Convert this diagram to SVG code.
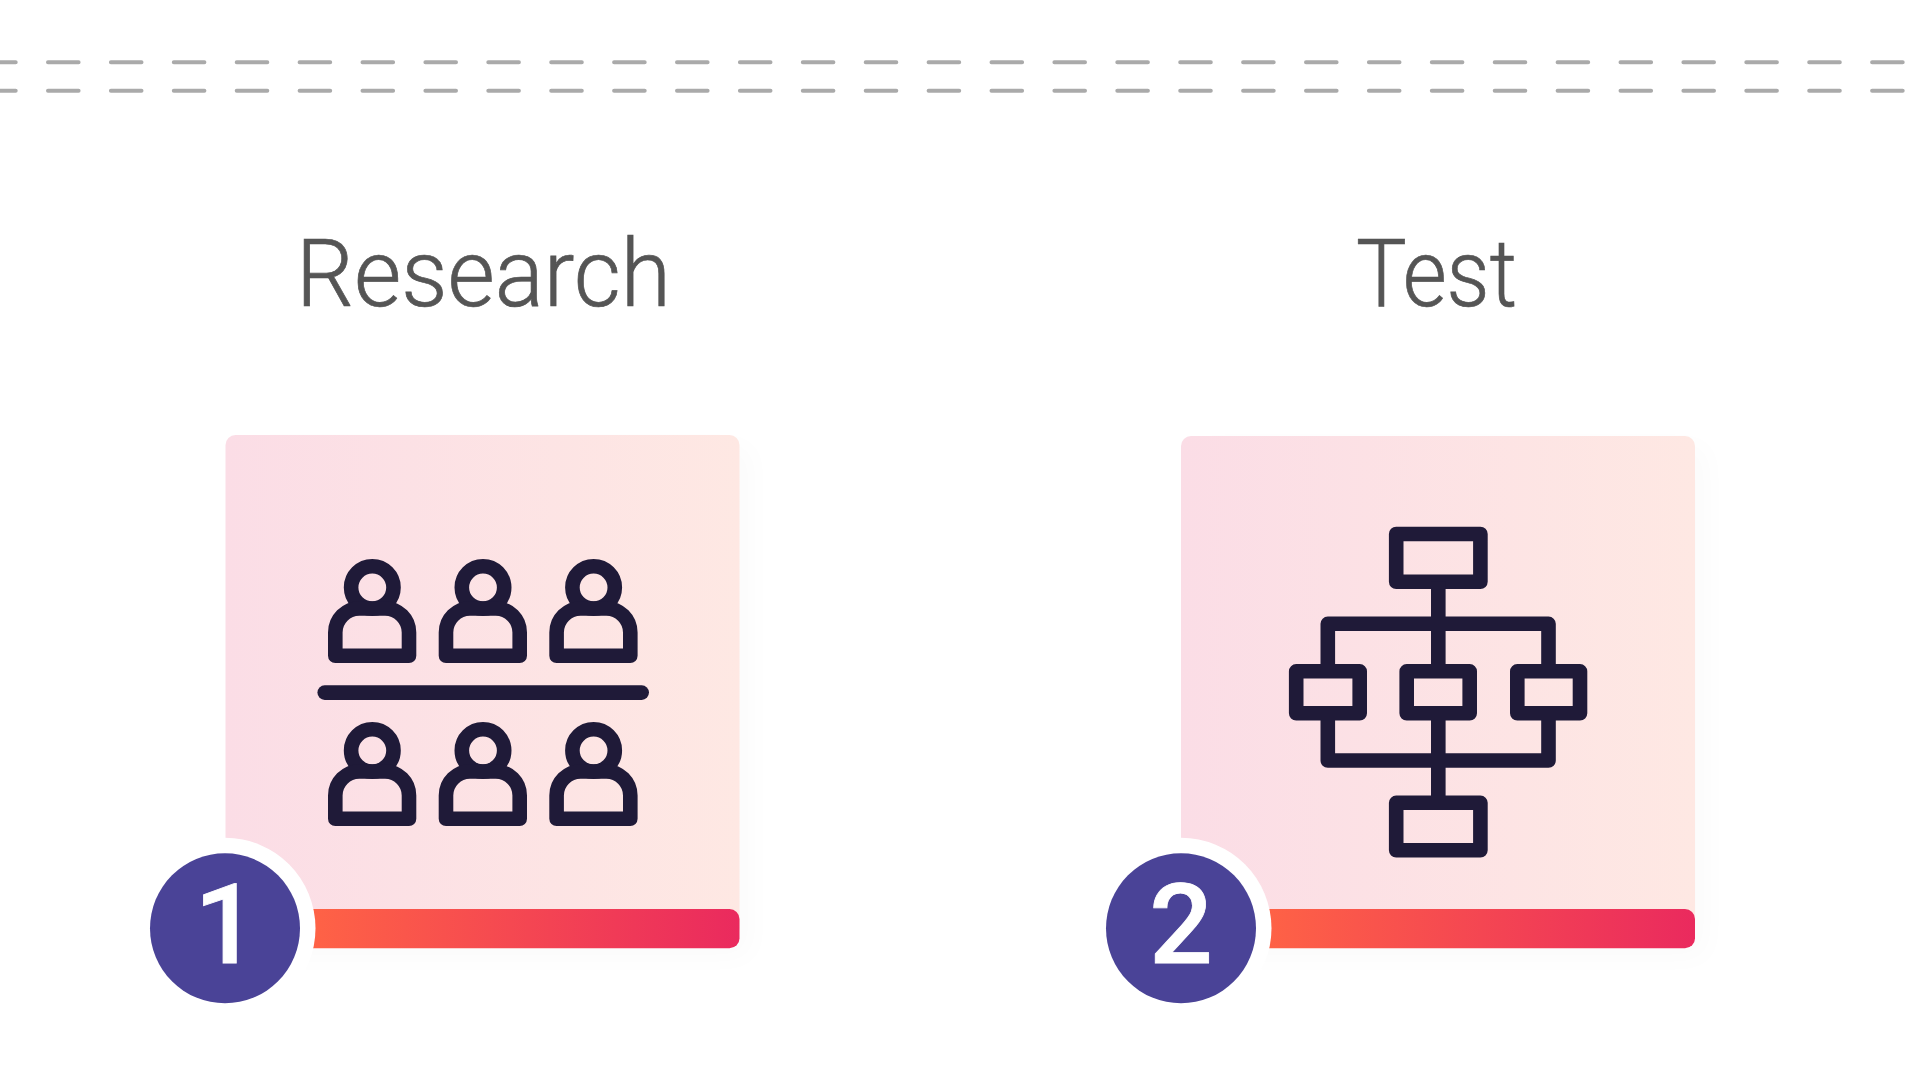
<svg xmlns="http://www.w3.org/2000/svg" width="1920" height="1071" viewBox="0 0 1920 1071">
<style>
.dash{fill:none;stroke:#aaaaaa;stroke-width:4;stroke-linecap:round;stroke-dasharray:30.6 32.3}
.title{font-family:"Roboto","Liberation Sans",sans-serif;font-weight:300;font-size:94px;fill:#555555;stroke:#555555;stroke-width:0.7}
.num{font-family:"Roboto","Liberation Sans",sans-serif;font-weight:500;font-size:112px;fill:#ffffff;stroke:#ffffff;stroke-width:0.8;text-anchor:middle}
.ic{fill:none;stroke:#1f1a38;stroke-width:14.6;stroke-linejoin:round;stroke-linecap:butt}
</style>
<defs>
<linearGradient id="cardFill" x1="0" y1="0" x2="1" y2="0"><stop offset="0" stop-color="#fbdde6"/><stop offset="1" stop-color="#fee8e3"/></linearGradient>
<linearGradient id="barFill" x1="0" y1="0" x2="1" y2="0"><stop offset="0" stop-color="#ff6445"/><stop offset="1" stop-color="#ea2a5e"/></linearGradient>
<filter id="soft" x="-20%" y="-20%" width="140%" height="140%"><feGaussianBlur stdDeviation="14"/></filter>
<g id="person">
<circle class="ic" cx="372.3" cy="587.5" r="21.2"/>
<path class="ic" d="M335.3 655.8V632.5a24 24 0 0 1 24-24H385a24 24 0 0 1 24 24V655.8Z"/>
</g>
</defs>
<rect width="1920" height="1071" fill="#ffffff"/>
<g id="dashes">
<line class="dash" x1="-14.9" y1="62.3" x2="1920" y2="62.3"/>
<line class="dash" x1="-14.9" y1="90.7" x2="1920" y2="90.7"/>
</g>
<g id="node-research">
<text class="title" x="296" y="306" textLength="375" lengthAdjust="spacingAndGlyphs">Research</text>
<rect x="226" y="436" width="513.5" height="512" rx="10" fill="#000" opacity="0.015" filter="url(#soft)" transform="translate(12 10)"/>
<rect x="225.5" y="435" width="514" height="503" rx="10" fill="url(#cardFill)"/>
<rect x="300" y="909" width="439.5" height="39.3" rx="10" fill="url(#barFill)"/>
<use href="#person"/><use href="#person" x="110.7"/><use href="#person" x="221.3"/>
<line class="ic" x1="324.7" y1="692.6" x2="641.7" y2="692.6" style="stroke-linecap:round"/>
<use href="#person" y="163"/><use href="#person" x="110.7" y="163"/><use href="#person" x="221.3" y="163"/>
<circle cx="225" cy="928.3" r="90.5" fill="#ffffff"/>
<circle cx="225" cy="928.3" r="75" fill="#4a4397"/>
<text class="num" x="226" y="962.7">1</text>
</g>
<g id="node-test">
<text class="title" x="1356" y="306" textLength="161" lengthAdjust="spacingAndGlyphs">Test</text>
<rect x="1181" y="436" width="514" height="512" rx="10" fill="#000" opacity="0.015" filter="url(#soft)" transform="translate(12 10)"/>
<rect x="1181" y="436" width="514" height="502" rx="10" fill="url(#cardFill)"/>
<rect x="1250" y="909" width="445" height="39.3" rx="10" fill="url(#barFill)"/>
<g>
<rect class="ic" x="1396.2" y="534" width="84.2" height="47.8"/>
<path class="ic" d="M1438.3 581.8V671.3M1438.3 713.3V802.8M1327.8 664.3V623.8H1548.5V664.3M1327.8 713.3V760.5H1548.5V713.3"/>
<rect class="ic" x="1296.2" y="671.3" width="63.5" height="42"/>
<rect class="ic" x="1406.7" y="671.3" width="63" height="42"/>
<rect class="ic" x="1517.3" y="671.3" width="62.7" height="42"/>
<rect class="ic" x="1396.2" y="802.8" width="84.2" height="47.5"/>
</g>
<circle cx="1181" cy="928.3" r="90.5" fill="#ffffff"/>
<circle cx="1181" cy="928.3" r="75" fill="#4a4397"/>
<text class="num" x="1181" y="962.7">2</text>
</g>
</svg>
